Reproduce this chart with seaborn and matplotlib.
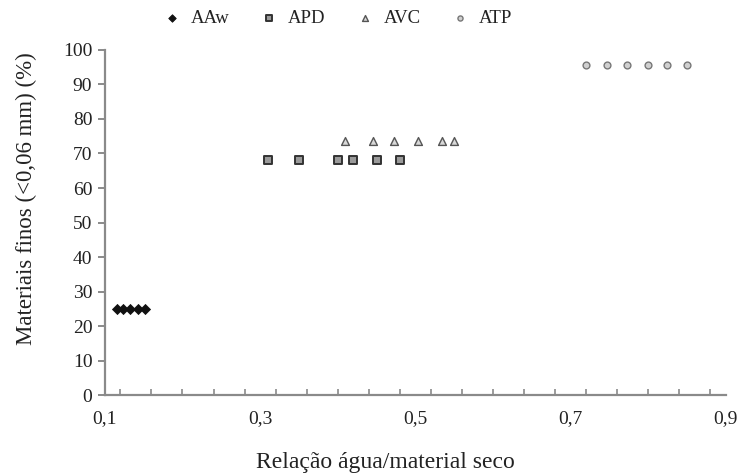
import matplotlib
matplotlib.use("Agg")
import matplotlib.pyplot as plt
import seaborn as sns
import pandas as pd
from matplotlib.ticker import MultipleLocator, FuncFormatter

# Water / dry-material ratio and fine-material content per soil group
aaw_x = [0.115, 0.124, 0.133, 0.143, 0.152]
aaw_y = [25, 25, 25, 25, 25]
apd_x = [0.31, 0.35, 0.40, 0.42, 0.45, 0.48]
apd_y = [68, 68, 68, 68, 68, 68]
avc_x = [0.41, 0.445, 0.473, 0.504, 0.535, 0.55]
avc_y = [73.5, 73.5, 73.5, 73.5, 73.5, 73.5]
atp_x = [0.72, 0.747, 0.773, 0.80, 0.824, 0.85]
atp_y = [95.5, 95.5, 95.5, 95.5, 95.5, 95.5]
groups = ["AAw", "APD", "AVC", "ATP"]

x_ticks = [0.1, 0.3, 0.5, 0.7, 0.9]
y_ticks = list(range(0, 101, 10))

df = pd.DataFrame({
    "x": aaw_x + apd_x + avc_x + atp_x,
    "y": aaw_y + apd_y + avc_y + atp_y,
    "grupo": (["AAw"] * len(aaw_x) + ["APD"] * len(apd_x)
              + ["AVC"] * len(avc_x) + ["ATP"] * len(atp_x)),
})

sns.set_theme(style="white")
plt.rcParams["font.family"] = ["Liberation Serif", "DejaVu Serif"]
text_color = "#222222"
axis_color = "#8a8a8a"

fig = plt.figure(figsize=(7.49, 4.75), dpi=100)
ax = fig.add_axes([0.140, 0.168, 0.829, 0.727])

styles = {
    "AAw": dict(marker="D", s=26, color="#111111", edgecolor="#111111", linewidth=0.6),
    "APD": dict(marker="s", s=40, color="#9a9a9a", edgecolor="#333333", linewidth=1.4),
    "AVC": dict(marker="^", s=32, color="#d8d8d8", edgecolor="#555555", linewidth=1.0),
    "ATP": dict(marker="o", s=24, color="#d0d0d0", edgecolor="#777777", linewidth=1.0),
}
for g in groups:
    sub = df[df["grupo"] == g]
    sns.scatterplot(data=sub, x="x", y="y", ax=ax, label=g, **styles[g])

ax.set_xlim(0.1, 0.9)
ax.set_ylim(0, 100)
ax.set_xticks(x_ticks)
ax.set_yticks(y_ticks)
ax.xaxis.set_minor_locator(MultipleLocator(0.04))
fmt = FuncFormatter(lambda v, p: f"{v:.1f}".replace(".", ","))
ax.xaxis.set_major_formatter(fmt)

for side in ["top", "right"]:
    ax.spines[side].set_visible(False)
for side in ["left", "bottom"]:
    ax.spines[side].set_color(axis_color)
    ax.spines[side].set_linewidth(1.6)

ax.tick_params(axis="x", which="major", direction="inout", length=9, width=1.4,
               color=axis_color, labelsize=14, labelcolor=text_color, pad=6)
ax.tick_params(axis="x", which="minor", direction="in", length=4, width=1.2,
               color=axis_color, bottom=True)
ax.tick_params(axis="y", which="major", direction="out", length=5, width=1.4,
               color=axis_color, labelsize=14, labelcolor=text_color, pad=4, left=True)

ax.set_xlabel("Relação água/material seco", fontsize=17, color=text_color)
ax.set_ylabel("Materiais finos (<0,06 mm) (%)", fontsize=16.5, color=text_color)
ax.xaxis.set_label_coords(0.451, -0.165)
ax.yaxis.set_label_coords(-0.110, 0.568)

leg = ax.legend(loc="upper center", bbox_to_anchor=(0.367, 1.165), ncol=4, frameon=False,
                fontsize=13.5, handletextpad=0.0, columnspacing=1.1, markerscale=0.75)
for t in leg.get_texts():
    t.set_color(text_color)

fig.savefig("out.png", dpi=100)
